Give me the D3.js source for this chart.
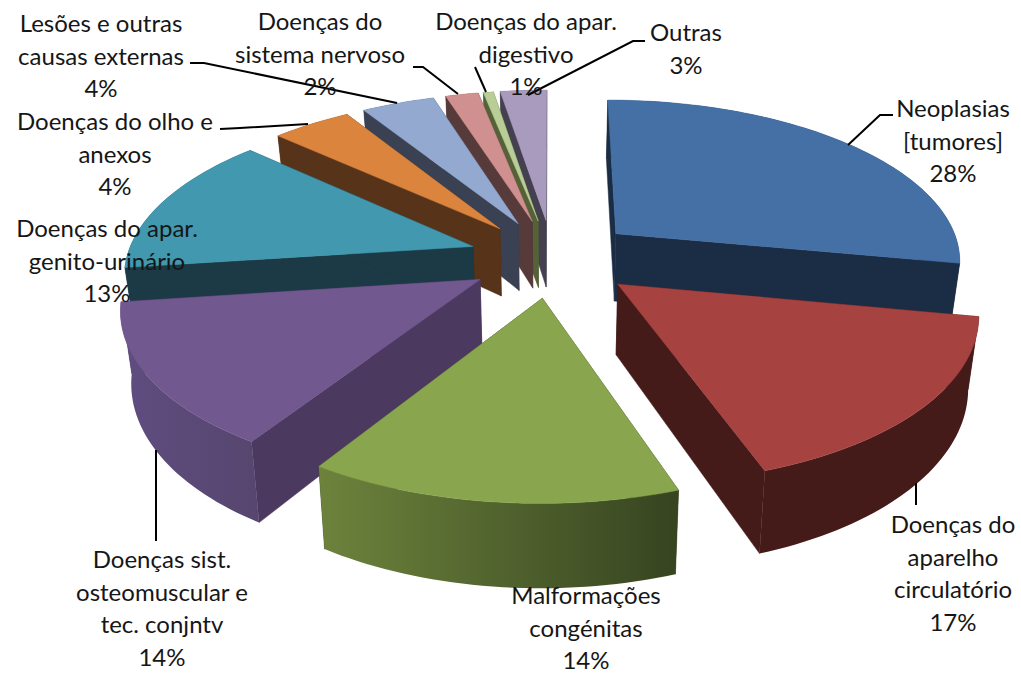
<!DOCTYPE html>
<html><head><meta charset="utf-8">
<script src="https://cdn.jsdelivr.net/npm/d3@7/dist/d3.min.js"></script>
<style>html,body{margin:0;padding:0;background:#fff}svg{display:block}text{font-family:Lato,"Open Sans",sans-serif;font-size:24px;fill:#161616;text-anchor:middle}</style>
</head><body><svg id="c" width="1021" height="674"></svg>
<script>
const categories=["Neoplasias [tumores]","Doenças do aparelho circulatório","Malformações congénitas","Doenças sist. osteomuscular e tec. conjntv","Doenças do apar. genito-urinário","Doenças do olho e anexos","Lesões e outras causas externas","Doenças do sistema nervoso","Doenças do apar. digestivo","Outras"];
const values=[28,16.7,14.3,13.9,13.85,4.35,4,1.8,0.55,2.55];
const topColors=["#4470a6","#a64340","#89a54e","#71588f","#4198af","#db843d","#93a9cf","#d09090","#b9cd96","#a99bbd"];
const sideColors=["#1b2d44","#441b19","#37441f","#4c3960","#1b3a45","#57331a","#3a4153","#573a3a","#556238","#444050"];
const wallLeft=["#1b2d44","#441b19","#6d833c","#5f4d80","#1b3a45","#57331a","#3a4153","#573a3a","#556238","#444050"];
const wallRight=["#1b2d44","#441b19","#364420","#57466f","#1b3a45","#57331a","#3a4153","#573a3a","#556238","#444050"];
const drawOrder=[9,8,7,6,5,4,0,3,1,2];
const labelLines=[["Neoplasias","[tumores]","28%"],["Doenças do","aparelho","circulatório","17%"],["Malformações","congénitas","14%"],["Doenças sist.","osteomuscular e","tec. conjntv","14%"],["Doenças do apar.","genito-urinário","13%"],["Doenças do olho e","anexos","4%"],["Lesões e outras","causas externas","4%"],["Doenças do","sistema nervoso","2%"],["Doenças do apar.","digestivo","1%"],["Outras","3%"]];
const labelAnchor=[[953,117],[953,533],[586,604],[162,568],[107,237],[115,130],[101,32],[320,30],[526,30],[686,41]];
const leaders=[[[848,145],[880,115],[893,115]],[[916,483],[916,505]],null,[[156,450],[156,541]],null,[[220,129],[240,128],[308,124]],[[190,63],[204,63],[397,103]],[[413,67],[423,67],[458,94]],[[475,67],[486,92]],[[645,41],[633,41],[528,95]]];

const cx=552.5,cy=258,r=346.5,sy=160.6,k=0.151,depth=69,explode=0.243,kz=0.025;
const project=(x,y,z)=>{const w=1/(1-k*y);return [cx+x*r*w*(1-kz*z),cy+y*sy*w+z*depth*w];};
const arcs=d3.pie().sort(null).value(d=>d)(values);
const svg=d3.select("#c");
const defs=svg.append("defs");
const line=d3.line();
const rim=(a,z)=>{
  const m=(a.startAngle+a.endAngle)/2,ox=Math.sin(m)*explode,oy=-Math.cos(m)*explode;
  return {apex:project(ox,oy,z),at:t=>project(ox+Math.sin(t),oy-Math.cos(t),z)};
};
drawOrder.forEach(i=>{
  const a=arcs[i],g=svg.append("g"),t0=rim(a,0),t1=rim(a,1);
  const n=Math.max(6,Math.ceil((a.endAngle-a.startAngle)*40));
  const ts=d3.range(n+1).map(d=>a.startAngle+(a.endAngle-a.startAngle)*d/n);
  [a.startAngle,a.endAngle].forEach(t=>{
    g.append("path").attr("d",line([t0.apex,t0.at(t),t1.at(t),t1.apex])+"Z").attr("fill",sideColors[i]).attr("stroke",sideColors[i]).attr("stroke-width",.5);
  });
  const xs=d3.extent(ts.map(t=>t0.at(t)[0]));
  const grad=defs.append("linearGradient").attr("id","wall"+i).attr("gradientUnits","userSpaceOnUse")
    .attr("x1",xs[0]).attr("x2",xs[1]).attr("y1",0).attr("y2",0);
  grad.append("stop").attr("offset",0).attr("stop-color",wallLeft[i]);
  grad.append("stop").attr("offset",1).attr("stop-color",wallRight[i]);
  g.append("path").attr("d",line([...ts.map(t=>t0.at(t)),...ts.slice().reverse().map(t=>t1.at(t))])+"Z").attr("fill",`url(#wall${i})`);
  g.append("path").attr("d",line([t0.apex,...ts.map(t=>t0.at(t))])+"Z").attr("fill",topColors[i]).attr("stroke",topColors[i]).attr("stroke-width",.5);
});
leaders.forEach(l=>{if(l)svg.append("path").attr("d",line(l)).attr("fill","none").attr("stroke","#000").attr("stroke-width",2);});
labelLines.forEach((ls,i)=>{
  const t=svg.append("text").attr("x",labelAnchor[i][0]).attr("y",labelAnchor[i][1]);
  ls.forEach((s,j)=>t.append("tspan").attr("x",labelAnchor[i][0]).attr("dy",j?32.7:0).text(s));
});
</script></body></html>
